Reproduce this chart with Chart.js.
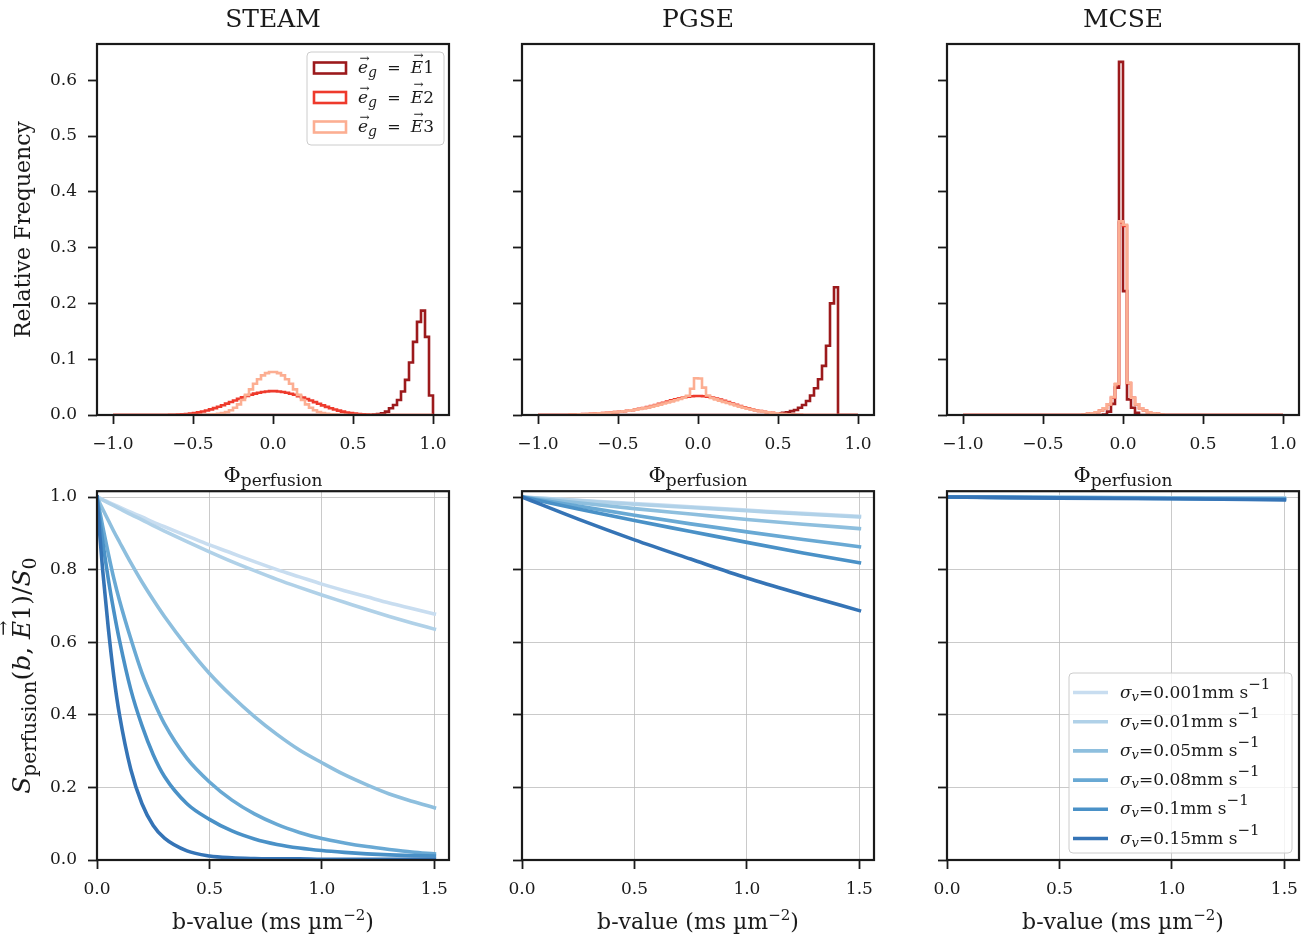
<!DOCTYPE html>
<html>
<head>
<meta charset="utf-8">
<script src="https://cdn.jsdelivr.net/npm/chart.js@4.4.1/dist/chart.umd.min.js"></script>
<style>
  html, body { margin: 0; padding: 0; background: #fff; }
  #fig { position: relative; width: 1309px; height: 940px; overflow: hidden; }
  canvas { position: absolute; }
</style>
</head>
<body>
<div id="fig">
  <canvas id="h0" width="469" height="495" style="left:0px;top:0px"></canvas>
  <canvas id="h1" width="469" height="495" style="left:425px;top:0px"></canvas>
  <canvas id="h2" width="469" height="495" style="left:850px;top:0px"></canvas>
  <canvas id="d0" width="469" height="470" style="left:0px;top:470px"></canvas>
  <canvas id="d1" width="469" height="470" style="left:425px;top:470px"></canvas>
  <canvas id="d2" width="469" height="470" style="left:850px;top:470px"></canvas>
</div>
<script>
// Daten
const sequences = ['STEAM', 'PGSE', 'MCSE'];
const directions = ['1', '2', '3'];
const sigmaV = ['0.001', '0.01', '0.05', '0.08', '0.1', '0.15'];

const histXTicks = [-1, -0.5, 0, 0.5, 1];
const histYTicks = [0, 0.1, 0.2, 0.3, 0.4, 0.5, 0.6];
const decayXTicks = [0, 0.5, 1, 1.5];
const decayYTicks = [0, 0.2, 0.4, 0.6, 0.8, 1];

// Histogramme: Bins der Breite 0.025 auf [-1, 1], Start = linke Kante des ersten Bins
const BIN_WIDTH = 0.025;

const steamE1Start = 0.625;
const steamE1 = [0.001, 0.0015, 0.003, 0.006, 0.012, 0.018, 0.027, 0.042, 0.063, 0.094, 0.131, 0.167, 0.187, 0.140, 0.035];
const steamE2Start = -0.65;
const steamE2 = [0.0003, 0.0005, 0.0008, 0.0012, 0.0018, 0.0026, 0.0035, 0.0047, 0.0062, 0.0080, 0.0100, 0.0123, 0.0148,
  0.0175, 0.0203, 0.0232, 0.0261, 0.0289, 0.0316, 0.0341, 0.0364, 0.0384, 0.0400, 0.0413, 0.0422, 0.0428,
  0.0428, 0.0421, 0.0412, 0.0398, 0.0382, 0.0362, 0.0339, 0.0314, 0.0287, 0.0259, 0.0230, 0.0201, 0.0173,
  0.0146, 0.0121, 0.0098, 0.0078, 0.0061, 0.0046, 0.0034, 0.0025, 0.0017, 0.0011, 0.0007, 0.0004, 0.0002];
const steamE3Start = -0.45;
const steamE3 = [0.0002, 0.0004, 0.0008, 0.0013, 0.0022, 0.0035, 0.0055, 0.0085, 0.013, 0.019, 0.027, 0.036, 0.046,
  0.056, 0.064, 0.071, 0.075, 0.077, 0.077, 0.075, 0.071, 0.064, 0.056, 0.046, 0.036, 0.027, 0.019, 0.013,
  0.0085, 0.0055, 0.0035, 0.0022, 0.0013, 0.0008, 0.0004, 0.0002];

const pgseE1Start = 0.45;
const pgseE1 = [0.0015, 0.002, 0.003, 0.004, 0.005, 0.007, 0.009, 0.013, 0.018, 0.025, 0.035, 0.048, 0.064, 0.088, 0.124, 0.200, 0.229];
const pgseE2Start = -0.8;
const pgseE2 = [0.0008, 0.0010, 0.0012, 0.0015, 0.0018, 0.0022, 0.0026, 0.0030, 0.0035, 0.0040, 0.0046, 0.0052, 0.0059,
  0.0067, 0.0076, 0.0086, 0.0098, 0.0111, 0.0126, 0.0142, 0.0160, 0.0179, 0.0199, 0.0220, 0.0241, 0.0262,
  0.0282, 0.0300, 0.0316, 0.0328, 0.0336, 0.0340, 0.0340, 0.0336, 0.0327, 0.0313, 0.0295, 0.0275, 0.0253,
  0.0230, 0.0206, 0.0183, 0.0160, 0.0139, 0.0119, 0.0101, 0.0085, 0.0071, 0.0058, 0.0047, 0.0038, 0.0030,
  0.0023, 0.0017, 0.0012, 0.0008, 0.0005, 0.0003];
const pgseE3Start = -0.8;
const pgseE3 = [0.0008, 0.0009, 0.0011, 0.0014, 0.0017, 0.0021, 0.0025, 0.0029, 0.0034, 0.0039, 0.0045, 0.0051, 0.0058,
  0.0066, 0.0075, 0.0085, 0.0096, 0.0108, 0.0121, 0.0135, 0.0151, 0.0168, 0.0186, 0.0205, 0.0224, 0.0244,
  0.0265, 0.0287, 0.0312, 0.0345, 0.0470, 0.0660, 0.0655, 0.0490, 0.0350, 0.0305, 0.0280, 0.0258, 0.0236,
  0.0214, 0.0192, 0.0171, 0.0150, 0.0131, 0.0113, 0.0097, 0.0082, 0.0069, 0.0057, 0.0047, 0.0038, 0.0030,
  0.0023, 0.0017, 0.0012, 0.0008, 0.0005, 0.0003];

const mcseE1Start = -0.125;
const mcseE1 = [0.001, 0.006, 0.020, 0.049, 0.633, 0.222, 0.028, 0.013, 0.004];
const mcseE2Start = -0.25;
const mcseE2 = [0.001, 0.002, 0.003, 0.005, 0.008, 0.012, 0.019, 0.031, 0.055, 0.345, 0.339, 0.057, 0.031, 0.019, 0.012, 0.008, 0.005, 0.003, 0.002, 0.001];
const mcseE3Start = -0.25;
const mcseE3 = [0.001, 0.002, 0.003, 0.005, 0.008, 0.012, 0.019, 0.032, 0.056, 0.347, 0.341, 0.058, 0.031, 0.019, 0.012, 0.008, 0.005, 0.003, 0.002, 0.001];

// Signalabfall ueber b-Wert
const steamB = [0, 0.0125, 0.025, 0.05, 0.075, 0.1, 0.15, 0.2, 0.25, 0.3, 0.4, 0.5, 0.6, 0.7, 0.8, 0.9, 1.0, 1.1, 1.2, 1.3, 1.4, 1.5];
const steamS0001 = [1, 0.997, 0.993, 0.986, 0.979, 0.972, 0.958, 0.945, 0.931, 0.918, 0.893, 0.868, 0.845, 0.822, 0.800, 0.780, 0.760, 0.742, 0.725, 0.708, 0.693, 0.678];
const steamS001 = [1, 0.996, 0.992, 0.984, 0.976, 0.968, 0.952, 0.937, 0.921, 0.906, 0.877, 0.849, 0.822, 0.797, 0.773, 0.751, 0.730, 0.710, 0.690, 0.671, 0.653, 0.636];
const steamS005 = [1, 0.983, 0.967, 0.936, 0.905, 0.876, 0.819, 0.766, 0.717, 0.671, 0.588, 0.514, 0.451, 0.395, 0.346, 0.303, 0.268, 0.235, 0.207, 0.182, 0.162, 0.144];
const steamS008 = [1, 0.960, 0.920, 0.845, 0.775, 0.715, 0.610, 0.515, 0.440, 0.375, 0.280, 0.215, 0.165, 0.127, 0.098, 0.076, 0.059, 0.047, 0.037, 0.029, 0.022, 0.017];
const steamS010 = [1, 0.938, 0.880, 0.775, 0.685, 0.605, 0.470, 0.370, 0.290, 0.230, 0.155, 0.112, 0.080, 0.058, 0.043, 0.033, 0.026, 0.021, 0.017, 0.014, 0.012, 0.011];
const steamS015 = [1, 0.895, 0.800, 0.640, 0.505, 0.400, 0.250, 0.155, 0.095, 0.060, 0.025, 0.011, 0.006, 0.004, 0.003, 0.003, 0.002, 0.002, 0.002, 0.002, 0.002, 0.002];

const pgseB = [0, 0.25, 0.5, 0.75, 1.0, 1.25, 1.5];
const pgseS0001 = [1, 0.991, 0.982, 0.973, 0.964, 0.955, 0.947];
const pgseS001 = [1, 0.990, 0.980, 0.971, 0.962, 0.953, 0.945];
const pgseS005 = [1, 0.984, 0.968, 0.953, 0.938, 0.925, 0.913];
const pgseS008 = [1, 0.975, 0.950, 0.926, 0.904, 0.883, 0.863];
const pgseS010 = [1, 0.967, 0.935, 0.905, 0.875, 0.846, 0.819];
const pgseS015 = [1, 0.939, 0.882, 0.829, 0.777, 0.731, 0.687];

const mcseB = [0, 0.5, 1.0, 1.5];
const mcseS0001 = [1, 0.999, 0.998, 0.997];
const mcseS001 = [1, 0.999, 0.998, 0.997];
const mcseS005 = [1, 0.999, 0.997, 0.996];
const mcseS008 = [1, 0.998, 0.996, 0.995];
const mcseS010 = [1, 0.998, 0.996, 0.994];
const mcseS015 = [1, 0.997, 0.995, 0.992];

// Farben und Schrift
const REDS = ['#9c1a1c', '#ee3a2c', '#fcae92'];
const BLUES = ['#c8ddf0', '#b0d1e8', '#8ebfde', '#69a9d4', '#4a91c7', '#3574b6'];
const INK = '#1a1a1a';
const GRID = '#bcbcbc';
const SERIF = '"DejaVu Serif", serif';

// Hilfsfunktionen
function fmt(v) {
  return (v < 0 ? '\u2212' : '') + Math.abs(v).toFixed(1);
}

function histPoints(start, values) {
  const n = Math.round(2 / BIN_WIDTH);
  const i0 = Math.round((start + 1) / BIN_WIDTH);
  const pts = [{ x: -1, y: 0 }];
  for (let i = 0; i < n; i++) {
    const k = i - i0;
    pts.push({ x: -1 + i * BIN_WIDTH, y: (k >= 0 && k < values.length) ? values[k] : 0 });
  }
  pts.push({ x: 1, y: 0 });
  return pts;
}

function curvePoints(bs, values) {
  return bs.map((b, i) => ({ x: b, y: values[i] }));
}

// Text mit Tief-/Hochstellung: [text, size, italic, dy, vecHeight]
function rich(ctx, parts, x, y, rot, align) {
  ctx.save();
  ctx.translate(x, y);
  if (rot) ctx.rotate(-Math.PI / 2);
  ctx.fillStyle = INK;
  ctx.textBaseline = 'alphabetic';
  ctx.textAlign = 'left';
  const font = p => (p[2] ? 'italic ' : '') + p[1] + 'px ' + SERIF;
  let w = 0;
  parts.forEach(p => { ctx.font = font(p); w += ctx.measureText(p[0]).width; });
  let cx = align === 'left' ? 0 : -w / 2;
  parts.forEach(p => {
    ctx.font = font(p);
    const tw = ctx.measureText(p[0]).width;
    const dy = p[3] || 0;
    ctx.fillText(p[0], cx, dy);
    if (p[4]) {
      const as = Math.round(p[1] * 0.7);
      ctx.font = as + 'px ' + SERIF;
      const aw = ctx.measureText('\u2192').width;
      ctx.fillText('\u2192', cx + tw / 2 - aw / 2 + (p[2] ? 1.5 : 0), dy - p[4] * p[1]);
    }
    cx += tw;
  });
  ctx.restore();
}

function legendFrame(ctx, x, y, w, h) {
  ctx.save();
  ctx.beginPath();
  ctx.roundRect(x, y, w, h, 4);
  ctx.fillStyle = 'rgba(255,255,255,0.8)';
  ctx.fill();
  ctx.strokeStyle = '#cccccc';
  ctx.lineWidth = 1;
  ctx.stroke();
  ctx.restore();
}

function decor(draw) {
  return {
    id: 'decor',
    afterDraw(chart) {
      const ctx = chart.ctx, a = chart.chartArea;
      ctx.save();
      ctx.strokeStyle = INK;
      ctx.lineWidth = 2.2;
      ctx.strokeRect(a.left, a.top, a.right - a.left, a.bottom - a.top);
      ctx.restore();
      draw(ctx, a);
    }
  };
}

function axis(pos, min, max, ticks, showLabels, grid, size) {
  return {
    type: 'linear', position: pos, min: min, max: max,
    afterBuildTicks: s => { s.ticks = ticks.map(v => ({ value: v })); },
    afterFit: s => { if (pos === 'left') s.width = size; else s.height = size; },
    border: { display: false },
    grid: {
      drawOnChartArea: grid, color: GRID, lineWidth: 0.8,
      drawTicks: true, tickLength: 9, tickWidth: 1.8, tickColor: INK
    },
    ticks: {
      autoSkip: false, maxRotation: 0, minRotation: 0,
      padding: pos === 'left' ? 11 : 10,
      color: INK, font: { family: SERIF, size: 17 },
      callback: v => showLabels ? fmt(v) : ''
    }
  };
}

function panel(id, datasets, padTop, xAxis, yAxis, draw) {
  return new Chart(document.getElementById(id), {
    type: 'line',
    data: { datasets: datasets },
    options: {
      responsive: false, animation: false, devicePixelRatio: 1,
      layout: { padding: { left: 0, right: 20, top: padTop, bottom: 0 } },
      plugins: { legend: { display: false }, tooltip: { enabled: false } },
      elements: { point: { radius: 0 } },
      scales: { x: xAxis, y: yAxis }
    },
    plugins: [decor(draw)]
  });
}

function histSets(series) {
  return series.map((s, i) => ({
    data: histPoints(s[0], s[1]),
    borderColor: REDS[i], borderWidth: 2.6, stepped: true, fill: false,
    borderJoinStyle: 'miter', order: series.length - i
  }));
}

function curveSets(bs, series) {
  return series.map((vals, i) => ({
    data: curvePoints(bs, vals),
    borderColor: BLUES[i], borderWidth: 3.6, fill: false,
    cubicInterpolationMode: 'monotone', borderCapStyle: 'square',
    order: series.length - i
  }));
}

const histData = [
  [[steamE1Start, steamE1], [steamE2Start, steamE2], [steamE3Start, steamE3]],
  [[pgseE1Start, pgseE1], [pgseE2Start, pgseE2], [pgseE3Start, pgseE3]],
  [[mcseE1Start, mcseE1], [mcseE2Start, mcseE2], [mcseE3Start, mcseE3]]
];
const decayData = [
  [steamB, [steamS0001, steamS001, steamS005, steamS008, steamS010, steamS015]],
  [pgseB, [pgseS0001, pgseS001, pgseS005, pgseS008, pgseS010, pgseS015]],
  [mcseB, [mcseS0001, mcseS001, mcseS005, mcseS008, mcseS010, mcseS015]]
];

// Obere Reihe: Histogramme
histData.forEach((series, c) => {
  panel('h' + c, histSets(series), 44,
    axis('bottom', -1.1, 1.1, histXTicks, true, false, 80),
    axis('left', 0, 0.665, histYTicks, c === 0, false, 97),
    (ctx, a) => {
      const cx = (a.left + a.right) / 2;
      rich(ctx, [[sequences[c], 25]], cx, 27);
      rich(ctx, [['\u03A6', 21], ['perfusion', 17, false, 4]], cx, 482);
      if (c === 0) {
        rich(ctx, [['Relative Frequency', 22]], 30, (a.top + a.bottom) / 2, true);
        const fx = a.right - 142, fy = a.top + 8;
        legendFrame(ctx, fx, fy, 137, 93);
        directions.forEach((d, i) => {
          const cy = fy + 16 + i * 29.5;
          ctx.save();
          ctx.strokeStyle = REDS[i];
          ctx.lineWidth = 2.6;
          ctx.strokeRect(fx + 7, cy - 5.5, 32, 11);
          ctx.restore();
          rich(ctx, [['e', 17, true, 0, 0.62], ['g', 14, true, 4], ['  =  ', 16], ['E', 17, true, 0, 0.85], [d, 17]],
            fx + 51, cy + 5, false, 'left');
        });
      }
    });
});

// Untere Reihe: Signalabfall
decayData.forEach((d, c) => {
  panel('d' + c, curveSets(d[0], d[1]), 19,
    axis('bottom', 0, 1.565, decayXTicks, true, true, 80),
    axis('left', 0, 1.016, decayYTicks, c === 0, true, 97),
    (ctx, a) => {
      const cx = (a.left + a.right) / 2;
      rich(ctx, [['b-value (ms \u00B5m', 22], ['\u22122', 15, false, -9], [')', 22]], cx, a.bottom + 69);
      if (c === 0) {
        rich(ctx, [['S', 25, true], ['perfusion', 20, false, 6], ['(', 25], ['b', 25, true], [', ', 25],
          ['E', 25, true, 0, 0.85], ['1', 25], [')/', 25], ['S', 25, true], ['0', 19, false, 6]],
          30, (a.top + a.bottom) / 2, true);
      }
      if (c === 2) {
        const fx = a.right - 230, fy = a.bottom - 187;
        legendFrame(ctx, fx, fy, 223, 180);
        sigmaV.forEach((s, i) => {
          const cy = fy + 19.5 + i * 29.2;
          ctx.save();
          ctx.strokeStyle = BLUES[i];
          ctx.lineWidth = 3.6;
          ctx.beginPath();
          ctx.moveTo(fx + 4, cy);
          ctx.lineTo(fx + 39, cy);
          ctx.stroke();
          ctx.restore();
          rich(ctx, [['\u03C3', 17, true], ['v', 13, true, 3], ['=' + s + 'mm', 17], [' s', 17], ['\u22121', 15, false, -9]],
            fx + 51, cy + 5, false, 'left');
        });
      }
    });
});
</script>
</body>
</html>
